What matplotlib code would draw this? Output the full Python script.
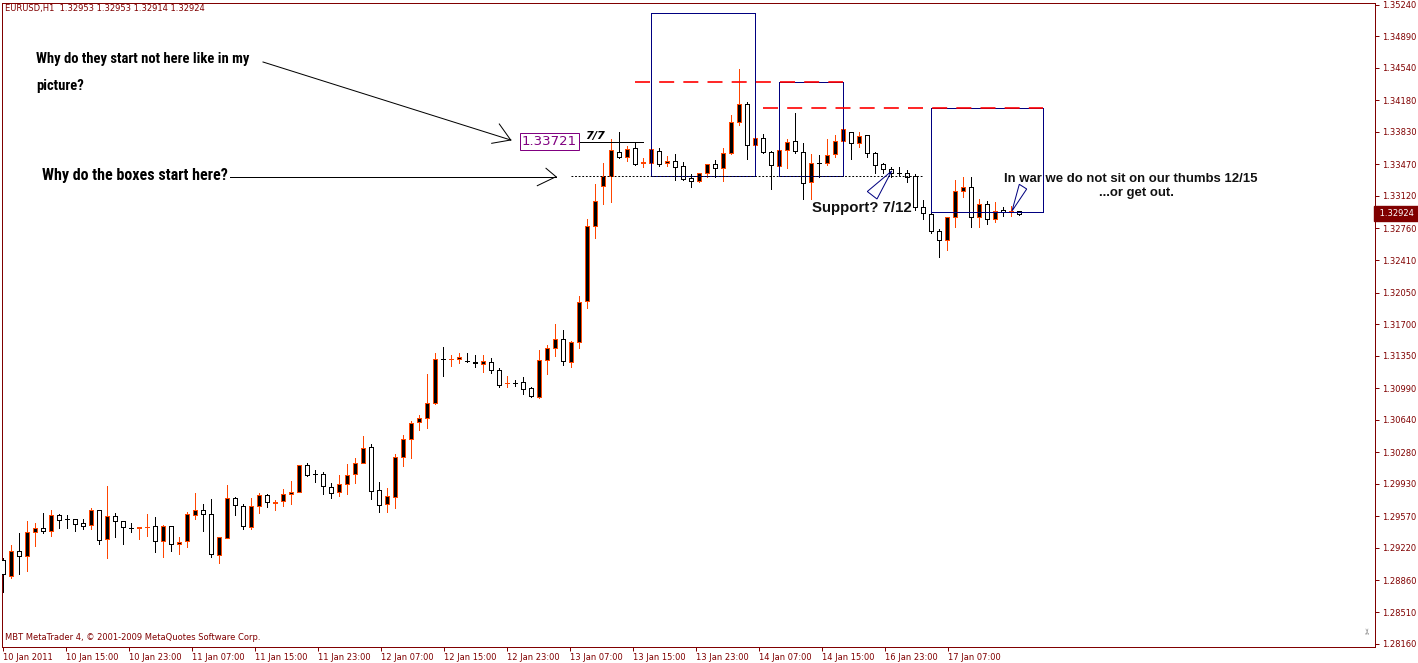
import numpy as np
import matplotlib
matplotlib.use("Agg")
import matplotlib.pyplot as plt
import matplotlib.transforms as mtransforms
from matplotlib.lines import Line2D
from matplotlib.patches import Rectangle, Polygon
from matplotlib import font_manager

# EURUSD H1 candles (open, high, low, close)
opens = [1.29087, 1.28913, 1.29187, 1.29134, 1.29394, 1.29438, 1.29411, 1.29582, 1.29539, 1.29538,
         1.29493, 1.29471, 1.29638, 1.29316, 1.29571, 1.29516, 1.29446, 1.29438, 1.29448, 1.29460,
         1.29294, 1.29460, 1.29264, 1.29294, 1.29582, 1.29638, 1.29593, 1.29139, 1.29327, 1.29771,
         1.29682, 1.29456, 1.29689, 1.29804, 1.29715, 1.29737, 1.29815, 1.29837, 1.30136, 1.30037,
         1.30036, 1.29896, 1.29837, 1.29926, 1.30036, 1.30158, 1.30336, 1.29859, 1.29704, 1.29782,
         1.30225, 1.30424, 1.30613, 1.30657, 1.30823, 1.31315, 1.31310, 1.31311, 1.31289, 1.31277,
         1.31255, 1.31277, 1.31189, 1.31044, 1.31052, 1.31056, 1.30989, 1.30896, 1.31300, 1.31433,
         1.31532, 1.31284, 1.31499, 1.31953, 1.32784, 1.33231, 1.33342, 1.33604, 1.33549, 1.33649,
         1.33490, 1.33489, 1.33619, 1.33480, 1.33504, 1.33452, 1.33316, 1.33286, 1.33372, 1.33475,
         1.33427, 1.33593, 1.33937, 1.34136, 1.33682, 1.33759, 1.33608, 1.33452, 1.33626, 1.33733,
         1.33611, 1.33272, 1.33483, 1.33482, 1.33582, 1.33733, 1.33826, 1.33704, 1.33796, 1.33593,
         1.33475, 1.33416, 1.33370, 1.33372, 1.33342, 1.32995, 1.32917, 1.32732, 1.32632, 1.32884,
         1.33175, 1.33223, 1.32884, 1.33028, 1.32868, 1.32965, 1.32949, 1.32953]
highs = [1.29109, 1.29250, 1.29389, 1.29519, 1.29500, 1.29611, 1.29641, 1.29597, 1.29585, 1.29538,
         1.29541, 1.29663, 1.29638, 1.29907, 1.29604, 1.29516, 1.29493, 1.29449, 1.29597, 1.29563,
         1.29475, 1.29460, 1.29342, 1.29615, 1.29829, 1.29707, 1.29763, 1.29338, 1.29918, 1.29782,
         1.29704, 1.29771, 1.29826, 1.29818, 1.29752, 1.29870, 1.29962, 1.30136, 1.30158, 1.30081,
         1.30059, 1.29940, 1.30029, 1.30151, 1.30217, 1.30461, 1.30369, 1.29948, 1.29881, 1.30258,
         1.30469, 1.30630, 1.30690, 1.31148, 1.31377, 1.31447, 1.31355, 1.31377, 1.31377, 1.31358,
         1.31358, 1.31322, 1.31211, 1.31126, 1.31081, 1.31111, 1.31000, 1.31414, 1.31469, 1.31702,
         1.31635, 1.31513, 1.32012, 1.32865, 1.33253, 1.33482, 1.33748, 1.33829, 1.33674, 1.33704,
         1.33536, 1.33649, 1.33649, 1.33563, 1.33585, 1.33493, 1.33360, 1.33378, 1.33475, 1.33519,
         1.33655, 1.34017, 1.34527, 1.34162, 1.33766, 1.33804, 1.33622, 1.33637, 1.33752, 1.34036,
         1.33704, 1.33582, 1.33574, 1.33752, 1.33796, 1.33870, 1.33832, 1.33829, 1.33796, 1.33611,
         1.33489, 1.33438, 1.33438, 1.33408, 1.33360, 1.33076, 1.32928, 1.32751, 1.32884, 1.33297,
         1.33334, 1.33327, 1.33083, 1.33065, 1.33057, 1.32995, 1.33009, 1.32953]
lows = [1.28732, 1.28891, 1.28932, 1.28968, 1.29245, 1.29389, 1.29356, 1.29445, 1.29445, 1.29411,
        1.29434, 1.29434, 1.29267, 1.29112, 1.29345, 1.29267, 1.29400, 1.29323, 1.29356, 1.29172,
        1.29123, 1.29190, 1.29157, 1.29234, 1.29545, 1.29411, 1.29123, 1.29050, 1.29327, 1.29589,
        1.29434, 1.29430, 1.29611, 1.29671, 1.29641, 1.29689, 1.29711, 1.29837, 1.30021, 1.29954,
        1.29821, 1.29777, 1.29799, 1.29821, 1.29943, 1.30158, 1.29766, 1.29615, 1.29622, 1.29666,
        1.30132, 1.30220, 1.30531, 1.30553, 1.30812, 1.31129, 1.31240, 1.31273, 1.31277, 1.31229,
        1.31167, 1.31156, 1.31000, 1.31000, 1.31011, 1.30929, 1.30890, 1.30885, 1.31151, 1.31347,
        1.31251, 1.31229, 1.31433, 1.31882, 1.32658, 1.33028, 1.33057, 1.33538, 1.33502, 1.33463,
        1.33441, 1.33445, 1.33452, 1.33449, 1.33292, 1.33297, 1.33216, 1.33275, 1.33334, 1.33327,
        1.33290, 1.33582, 1.33907, 1.33533, 1.33674, 1.33600, 1.33194, 1.33445, 1.33434, 1.33600,
        1.33090, 1.33090, 1.33334, 1.33463, 1.33555, 1.33722, 1.33527, 1.33666, 1.33549, 1.33372,
        1.33372, 1.33334, 1.33356, 1.33272, 1.32965, 1.32862, 1.32713, 1.32441, 1.32522, 1.32773,
        1.33112, 1.32780, 1.32780, 1.32806, 1.32829, 1.32898, 1.32898, 1.32914]
closes = [1.28928, 1.29183, 1.29134, 1.29394, 1.29438, 1.29411, 1.29585, 1.29527, 1.29538, 1.29482,
          1.29460, 1.29638, 1.29312, 1.29571, 1.29516, 1.29449, 1.29445, 1.29449, 1.29449, 1.29294,
          1.29460, 1.29261, 1.29286, 1.29593, 1.29638, 1.29593, 1.29150, 1.29338, 1.29771, 1.29693,
          1.29460, 1.29682, 1.29804, 1.29726, 1.29733, 1.29815, 1.29837, 1.30136, 1.30032, 1.30036,
          1.29903, 1.29833, 1.29926, 1.30025, 1.30158, 1.30325, 1.29848, 1.29693, 1.29793, 1.30225,
          1.30424, 1.30602, 1.30657, 1.30823, 1.31311, 1.31314, 1.31311, 1.31333, 1.31288, 1.31266,
          1.31288, 1.31189, 1.31023, 1.31045, 1.31051, 1.30978, 1.30901, 1.31300, 1.31433, 1.31532,
          1.31288, 1.31499, 1.31949, 1.32784, 1.33061, 1.33342, 1.33624, 1.33549, 1.33637, 1.33475,
          1.33491, 1.33637, 1.33471, 1.33504, 1.33445, 1.33312, 1.33283, 1.33372, 1.33475, 1.33427,
          1.33593, 1.33937, 1.34136, 1.33682, 1.33759, 1.33608, 1.33460, 1.33626, 1.33715, 1.33619,
          1.33267, 1.33489, 1.33482, 1.33578, 1.33733, 1.33859, 1.33704, 1.33785, 1.33593, 1.33463,
          1.33419, 1.33372, 1.33369, 1.33334, 1.32995, 1.32928, 1.32732, 1.32632, 1.32884, 1.33179,
          1.33223, 1.32884, 1.33028, 1.32868, 1.32957, 1.32939, 1.32950, 1.32924]

ytick_vals = [1.35240, 1.34890, 1.34540, 1.34180, 1.33830, 1.33470, 1.33120, 1.32760, 1.32410,
              1.32050, 1.31700, 1.31350, 1.30990, 1.30640, 1.30280, 1.29930, 1.29570, 1.29220,
              1.28860, 1.28510, 1.28160]
xtick_labels = ["10 Jan 2011", "10 Jan 15:00", "10 Jan 23:00", "11 Jan 07:00", "11 Jan 15:00",
                "11 Jan 23:00", "12 Jan 07:00", "12 Jan 15:00", "12 Jan 23:00", "13 Jan 07:00",
                "13 Jan 15:00", "13 Jan 23:00", "14 Jan 07:00", "14 Jan 15:00", "16 Jan 23:00",
                "17 Jan 07:00"]
last_price = 1.32924

# chart objects (bar index / price)
box_left = [81, 97, 116]
box_right = [94, 105, 130]
box_bottom = [1.33342, 1.33342, 1.32940]
box_top = [1.35144, 1.34383, 1.34092]
dash_level = [1.34383, 1.34092]
dash_start = [79, 95]
dash_end = [105, 130]
support_level, support_from, support_to = 1.33342, 71, 115
label_price, label_from, label_to = 1.33721, 71, 80

W, H = 1418, 663
maroon = "#800000"
orange = "#FF4500"
navy = "#000080"
px1 = 0.72

fig = plt.figure(figsize=(W / 100, H / 100), dpi=100)
fig.patch.set_facecolor("white")
ax = fig.add_axes([2 / W, (H - 647) / H, 1373 / W, 644 / H])
pix = mtransforms.Affine2D().scale(1 / W, -1 / H).translate(0, 1) + fig.transFigure

o = np.array(opens); h = np.array(highs); l = np.array(lows); c = np.array(closes)
idx = np.arange(len(o))
up = c >= o
wick_col = np.where(up, orange, "black")
face = np.where(up, "black", "white")
ax.vlines(idx, l, h, colors=wick_col, lw=px1, zorder=2, antialiased=False)
ax.bar(idx, np.maximum(np.abs(c - o), 1e-6), bottom=np.minimum(o, c), width=0.6,
       color=face, edgecolor=wick_col, linewidth=px1, zorder=3, antialiased=False)

ax.set_xlim(-0.125, 171.5)
ax.set_ylim(1.28123, 1.35258)

# axes styling like MT4
for s in ax.spines.values():
    s.set_color(maroon)
    s.set_linewidth(px1)
ax.yaxis.tick_right()
ax.set_yticks(ytick_vals)
ax.set_yticklabels([f"{v:.5f}" for v in ytick_vals])
ax.set_xticks([7.875 * k for k in range(len(xtick_labels))])
ax.set_xticklabels(xtick_labels)
ax.tick_params(axis="both", direction="out", length=3, width=px1, colors=maroon, labelsize=6)
ax.tick_params(axis="y", pad=2)
ax.tick_params(axis="x", pad=1)
for lbl in ax.get_xticklabels():
    lbl.set_ha("left")

# current price label
ax.text(1.0012, last_price, f" {last_price:.5f}  ", transform=mtransforms.blended_transform_factory(ax.transAxes, ax.transData),
        color="white", fontsize=6, va="center", ha="left",
        bbox=dict(boxstyle="square,pad=0.35", fc=maroon, ec=maroon), clip_on=False)

# boxes and levels
for x0, x1, y0, y1 in zip(box_left, box_right, box_bottom, box_top):
    ax.add_patch(Rectangle((x0, y0), x1 - x0, y1 - y0, fill=False, edgecolor=navy, lw=px1, zorder=4,
                           antialiased=False))
for lv, x0, x1 in zip(dash_level, dash_start, dash_end):
    ax.plot([x0, x1], [lv, lv], color="red", lw=1.2, dashes=(9, 5.5), zorder=5)
ax.plot([support_from, support_to], [support_level, support_level], color="black", lw=px1,
        dashes=(1.8, 1.8), zorder=4)
ax.plot([label_from, label_to], [label_price, label_price], color="black", lw=px1, zorder=4)
ax.text(label_from + 0.75, label_price, f"{label_price:.5f}", ha="right", va="center", color="#800080",
        fontsize=9.5, zorder=6, bbox=dict(boxstyle="square,pad=0.15", fc="white", ec="#800080", lw=px1))

# header / footer
fig.text(5, 8, "EURUSD,H1  1.32953 1.32953 1.32914 1.32924", transform=pix, fontsize=6,
         color=maroon, va="center", ha="left")
fig.text(5, 637, "MBT MetaTrader 4, \u00a9 2001-2009 MetaQuotes Software Corp.", transform=pix,
         fontsize=6, color=maroon, va="center", ha="left")
fig.text(1368, 631, "\u2702", transform=pix, fontsize=6, color="#777777", va="center", ha="center",
         rotation=90)

# hand written notes
avail = {f.name for f in font_manager.fontManager.ttflist}
narrow = next((f for f in ["Liberation Sans Narrow", "Roboto Condensed", "DejaVu Sans Condensed"]
               if f in avail), "DejaVu Sans")
renderer = fig.canvas.get_renderer()


def note(x, y, s, width, **kw):
    t = fig.text(x, y, s, transform=pix, va="baseline", ha="left", **kw)
    w = t.get_window_extent(renderer).width
    t.set_fontsize(t.get_fontsize() * width / w)
    return t


t1 = note(36, 63, "Why do they start not here like in my", 214, family=narrow, weight="bold",
          fontstretch="condensed", fontsize=12, color="black")
fig.text(36, 90, "picture?", transform=pix, va="baseline", ha="left", family=narrow, weight="bold",
         fontstretch="condensed", fontsize=t1.get_fontsize(), color="black")
note(42, 180, "Why do the boxes start here?", 186, family=narrow, weight="bold",
     fontstretch="condensed", fontsize=12, color="black")
note(812, 212, "Support? 7/12", 100, family="Liberation Sans", fontsize=9, weight="bold",
     color="#111111")
t2 = note(1004, 182, "In war we do not sit on our thumbs 12/15", 254, family="Liberation Sans",
          fontsize=9, weight="bold", color="#111111")
fig.text(1099, 196, "...or get out.", transform=pix, va="baseline", ha="left", family="Liberation Sans",
         fontsize=t2.get_fontsize(), weight="bold", color="#111111")
note(585, 139, "7/7", 20, fontsize=9, weight="bold", style="italic", color="black")

# arrows
arrows = [((263, 62), (510.7, 140), (499.3, 124), (491.7, 143.3)),
          ((230, 176.7), (556, 176.7), (546, 168.3), (537.3, 185.7))]
for start, tip, b1, b2 in arrows:
    for a in (start, b1, b2):
        fig.add_artist(Line2D([a[0], tip[0]], [a[1], tip[1]], transform=pix, color="black", lw=px1))

# callout triangles
for tri in ([(891.7, 171), (867.3, 191.5), (877, 199)],
            [(1012, 211), (1019.3, 184.3), (1026.7, 189)]):
    fig.add_artist(Polygon(tri, closed=True, fill=False, edgecolor=navy, lw=px1, transform=pix))

fig.savefig("out.png", dpi=100, facecolor="white")
